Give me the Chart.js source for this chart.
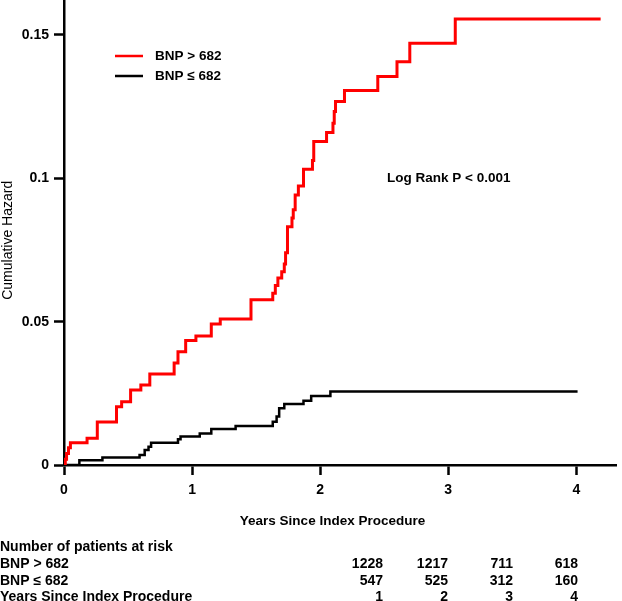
<!DOCTYPE html>
<html>
<head>
<meta charset="utf-8">
<script src="https://cdn.jsdelivr.net/npm/chart.js@4.4.0/dist/chart.umd.min.js"></script>
<style>
  html, body { margin: 0; padding: 0; background: #fff; }
  canvas { display: block; }
</style>
</head>
<body>
<canvas id="chart" width="622" height="601"></canvas>
<script>
// Cumulative hazard step curves (years, hazard)
const highTimes = [0, 0.01, 0.02, 0.035, 0.05, 0.18, 0.26, 0.41, 0.45, 0.52, 0.60, 0.67, 0.86, 0.89, 0.95,
    1.03, 1.15, 1.22, 1.46, 1.63, 1.65, 1.67, 1.70, 1.72, 1.73, 1.745, 1.78, 1.79, 1.805, 1.83,
    1.87, 1.94, 1.95, 2.05, 2.10, 2.11, 2.12, 2.19, 2.45, 2.60, 2.70, 3.055, 4.19];
const highHazard = [0, 0.002, 0.004, 0.006, 0.0078, 0.0093, 0.015, 0.0203, 0.0221, 0.0262, 0.0279, 0.0317, 0.0356, 0.0395, 0.0434,
    0.045, 0.0492, 0.0509, 0.0576, 0.0599, 0.0626, 0.0652, 0.0674, 0.0701, 0.074, 0.0831, 0.0862, 0.089, 0.0942, 0.0973,
    0.1032, 0.1062, 0.1128, 0.116, 0.1192, 0.1233, 0.1268, 0.1306, 0.1355, 0.1407, 0.1471, 0.1556, 0.1556];

const lowTimes = [0, 0.12, 0.30, 0.59, 0.63, 0.66, 0.68, 0.89, 0.91, 1.06, 1.15, 1.34, 1.63, 1.66, 1.68, 1.72, 1.87, 1.93, 2.08, 4.01];
const lowHazard = [0, 0.0017, 0.0026, 0.0035, 0.0052, 0.0064, 0.0078, 0.009, 0.0099, 0.011, 0.0126, 0.0136, 0.0151, 0.0169,
    0.0198, 0.0213, 0.0224, 0.0241, 0.0256, 0.0256];

const seriesLabels = ['BNP > 682', 'BNP \u2264 682'];
const xTicks = [0, 1, 2, 3, 4];
const yTicks = [0, 0.05, 0.1, 0.15];

// Number at risk table
const riskYears = [1, 2, 3, 4];
const riskHigh = [1228, 1217, 711, 618];
const riskLow = [547, 525, 312, 160];

const fontFamily = '"Liberation Sans", Arial, sans-serif';

function toPoints(xs, ys) {
    return xs.map((x, i) => ({ x: x, y: ys[i] }));
}

// Legend, p-value and risk table drawn as text
const annotations = {
    id: 'annotations',
    afterDraw(chart) {
        const ctx = chart.ctx;
        ctx.save();
        ctx.fillStyle = '#000';
        ctx.textBaseline = 'middle';

        // legend
        ctx.font = 'bold 13.5px ' + fontFamily;
        chart.data.datasets.forEach((ds, i) => {
            const y = 56 + i * 20;
            ctx.strokeStyle = ds.borderColor;
            ctx.lineWidth = 2.5;
            ctx.beginPath();
            ctx.moveTo(115, y);
            ctx.lineTo(143, y);
            ctx.stroke();
            ctx.textAlign = 'left';
            ctx.fillText(seriesLabels[i], 155, y);
        });

        ctx.textAlign = 'left';
        ctx.fillText('Log Rank P < 0.001', 387, 178);

        // at-risk table
        ctx.font = 'bold 14px ' + fontFamily;
        ctx.fillText('Number of patients at risk', 0, 547);
        ctx.fillText(seriesLabels[0], 0, 564);
        ctx.fillText(seriesLabels[1], 0, 581);
        ctx.fillText('Years Since Index Procedure', 0, 597);
        ctx.textAlign = 'right';
        riskYears.forEach((yr, i) => {
            const colX = 383 + i * 65;
            ctx.fillText(String(riskHigh[i]), colX, 564);
            ctx.fillText(String(riskLow[i]), colX, 581);
            ctx.fillText(String(yr), colX, 597);
        });
        ctx.restore();
    }
};

const ctx = document.getElementById('chart').getContext('2d');
new Chart(ctx, {
    type: 'scatter',
    data: {
        datasets: [{
            label: seriesLabels[0],
            data: toPoints(highTimes, highHazard),
            showLine: true,
            stepped: 'before',
            borderColor: '#ff0000',
            borderWidth: 3,
            pointRadius: 0,
            fill: false
        }, {
            label: seriesLabels[1],
            data: toPoints(lowTimes, lowHazard),
            showLine: true,
            stepped: 'before',
            borderColor: '#000000',
            borderWidth: 2.5,
            pointRadius: 0,
            fill: false
        }]
    },
    options: {
        responsive: false,
        animation: false,
        layout: { padding: { left: 0, top: 0, right: 6, bottom: 0 } },
        plugins: {
            legend: { display: false },
            tooltip: { enabled: false }
        },
        scales: {
            x: {
                type: 'linear',
                min: 0,
                max: 4.31,
                afterBuildTicks: (scale) => { scale.ticks = xTicks.map(v => ({ value: v })); },
                afterFit: (scale) => {
                    scale.height = 136;
                    scale.paddingLeft = 0;
                    scale.paddingRight = 0;
                },
                ticks: {
                    color: '#000',
                    font: { family: fontFamily, size: 14, weight: 'bold' },
                    padding: 7,
                    maxRotation: 0,
                    callback: (v) => String(v)
                },
                grid: {
                    drawOnChartArea: false,
                    drawTicks: true,
                    tickLength: 10,
                    tickColor: '#000',
                    tickWidth: 2.5
                },
                border: { display: true, color: '#000', width: 2.5 },
                title: {
                    display: true,
                    text: 'Years Since Index Procedure    ',
                    color: '#000',
                    font: { family: fontFamily, size: 13.5, weight: 'bold' },
                    padding: { top: 0, bottom: 72 }
                }
            },
            y: {
                type: 'linear',
                min: 0,
                max: 0.1622,
                afterBuildTicks: (scale) => { scale.ticks = yTicks.map(v => ({ value: v })); },
                afterFit: (scale) => {
                    scale.width = 64;
                    scale.paddingTop = 0;
                    scale.paddingBottom = 0;
                },
                ticks: {
                    color: '#000',
                    font: { family: fontFamily, size: 14, weight: 'bold' },
                    padding: 5,
                    callback: (v) => String(v)
                },
                grid: {
                    drawOnChartArea: false,
                    drawTicks: true,
                    tickLength: 10,
                    tickColor: '#000',
                    tickWidth: 2.5
                },
                border: { display: true, color: '#000', width: 2.5 },
                title: {
                    display: true,
                    text: 'Cumulative Hazard    ',
                    color: '#000',
                    font: { family: fontFamily, size: 14, weight: 'normal' },
                    padding: { top: 0, bottom: 0 }
                }
            }
        }
    },
    plugins: [annotations]
});
</script>
</body>
</html>
